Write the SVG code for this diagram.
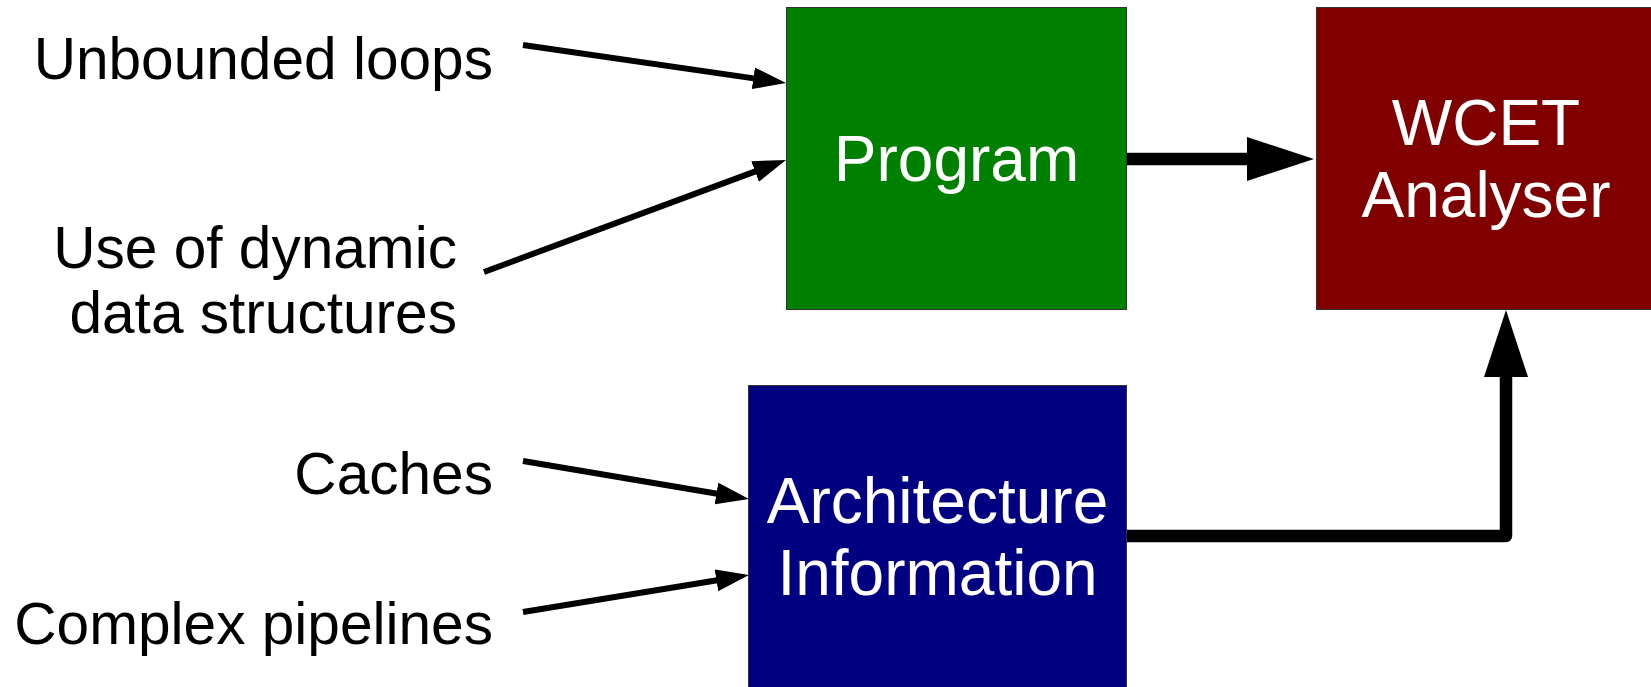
<svg xmlns="http://www.w3.org/2000/svg" width="1651" height="687" viewBox="0 0 1651 687">
<style>
.box{stroke:#333;stroke-width:1}
.bt{font-family:"Liberation Sans",Arial,sans-serif;font-size:64px;fill:#fff;text-anchor:middle}
.lb{font-family:"Liberation Sans",Arial,sans-serif;font-size:58.6px;fill:#000;text-anchor:end}
.thin{stroke:#000;stroke-width:6;fill:none}
.thick{stroke:#000;stroke-width:12.5;fill:none;stroke-linejoin:round}
</style>
<defs>
<marker id="ah" markerUnits="userSpaceOnUse" viewBox="0 0 33 22" markerWidth="33" markerHeight="22" refX="4" refY="11" orient="auto"><path d="M0,0 L33,11 L0,22 z" fill="#000"/></marker>
<marker id="ahb" markerUnits="userSpaceOnUse" viewBox="0 0 67 44" markerWidth="67" markerHeight="44" refX="4" refY="22" orient="auto"><path d="M0,0 L67,22 L0,44 z" fill="#000"/></marker>
</defs>
<rect width="1651" height="687" fill="#fff"/>
<g id="program"><rect class="box" x="786.5" y="7.5" width="340" height="302" fill="#008000"/><text class="bt" x="956.5" y="181">Program</text></g>
<g id="wcet"><rect class="box" x="1316.5" y="7.5" width="340" height="302" fill="#800000"/><text class="bt" x="1486" y="145">WCET</text><text class="bt" x="1486" y="217">Analyser</text></g>
<g id="arch"><rect class="box" x="748.5" y="385.5" width="378" height="310" fill="#000080"/><text class="bt" x="937.5" y="523">Architecture</text><text class="bt" x="937.5" y="595">Information</text></g>
<g id="l1"><text class="lb" x="493" y="79">Unbounded loops</text></g>
<g id="l2"><text class="lb" x="457" y="268">Use of dynamic</text><text class="lb" x="457" y="333">data structures</text></g>
<g id="l3"><text class="lb" x="493" y="494">Caches</text></g>
<g id="l4"><text class="lb" x="493" y="644">Complex pipelines</text></g>
<g id="connectors">
<path class="thin" d="M523,45 L757.3,78.85" marker-end="url(#ah)"/>
<path class="thin" d="M484,272 L758.8,170.1" marker-end="url(#ah)"/>
<path class="thin" d="M523,461 L720.4,494.2" marker-end="url(#ah)"/>
<path class="thin" d="M523,612 L720.4,579.7" marker-end="url(#ah)"/>
<path class="thick" d="M1127,159 L1251,159" marker-end="url(#ahb)"/>
<path class="thick" d="M1127,536 L1506,536 L1506,373" marker-end="url(#ahb)"/>
</g>
</svg>
